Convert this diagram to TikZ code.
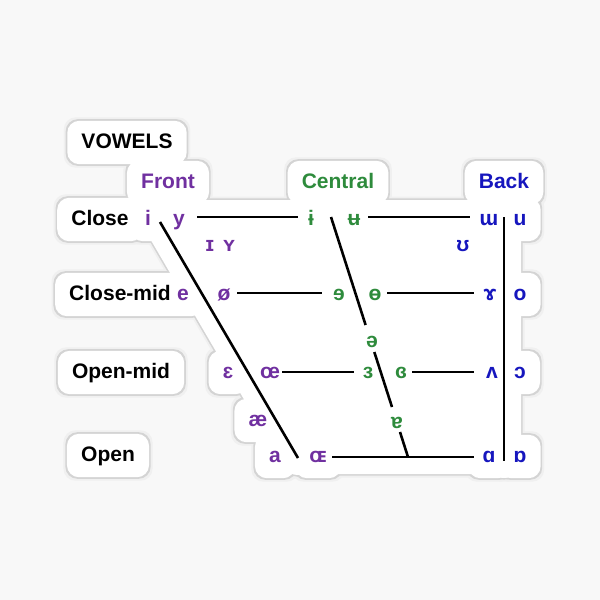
\documentclass[tikz,border=0pt]{standalone}
\usepackage{fontspec}
\setmainfont{Liberation Sans}
\usetikzlibrary{backgrounds}
\definecolor{bg}{RGB}{248,248,248}
\definecolor{pur}{RGB}{112,48,160}
\definecolor{grn}{RGB}{46,139,60}
\definecolor{blu}{RGB}{22,22,190}
\tikzset{
 lbl/.style={font=\fontsize{21}{24}\selectfont\bfseries, inner sep=0pt, text height=15pt, text depth=4pt, anchor=base},
 fr/.style={lbl, text=pur}, ce/.style={lbl, text=grn}, bk/.style={lbl, text=blu}, hd/.style={lbl, text=black},
 chartline/.style={line width=2.6pt, black},
}
\newcommand\stickerlayer[2]{%
  \foreach \n in {vw,fh,ch,bh,lc,lcm,lom,lo,i,y,ib,ub,uu,u,sI,sY,hu,e,oo,re,bo,rg,o,sw,eps,oe,rep,cre,wv,oc,ae,tu,a,OE,al,ao}{%
    \fill[#2, rounded corners=12pt] ([shift={(-14pt-#1,-12pt-#1)}]\n.south west) rectangle ([shift={(14pt+#1,12pt+#1)}]\n.north east);
  }
  \draw[#2, line width=34pt+2*#1, line cap=round] (f1)--(f2) (c1)--(c2) (b1)--(b2) (r1a)--(r1d) (r2a)--(r2d) (r3a)--(r3d) (r4a)--(r4b);
  \fill[#2] (f1)--(b1)--(b2)--(f2)--cycle;
}
\begin{document}
\begin{tikzpicture}[x=1pt,y=-1pt]
\useasboundingbox (0,0) rectangle (600,600);
% headings
\node[hd] (vw) at (127,148) {VOWELS};
\node[fr] (fh) at (168,188) {Front};
\node[ce] (ch) at (338,188) {Central};
\node[bk] (bh) at (504,188) {Back};
\node[hd] (lc) at (100,225) {Close};
\node[hd] (lcm) at (120,300) {Close-mid};
\node[hd] (lom) at (121,378) {Open-mid};
\node[hd] (lo) at (108,461) {Open};
% row 1
\node[fr] (i) at (148,225) {i};
\node[fr] (y) at (179,225) {y};
\node[ce] (ib) at (311,225) {ɨ};
\node[ce] (ub) at (354,225) {ʉ};
\node[bk] (uu) at (489,225) {ɯ};
\node[bk] (u) at (520,225) {u};
\node[fr] (sI) at (210,251) {ɪ};
\node[fr] (sY) at (229,251) {ʏ};
\node[bk] (hu) at (463,251) {ʊ};
% row 2
\node[fr] (e) at (183,300) {e};
\node[fr] (oo) at (224,300) {ø};
\node[ce] (re) at (339,300) {ɘ};
\node[ce] (bo) at (375,300) {ɵ};
\node[bk] (rg) at (490,300) {ɤ};
\node[bk] (o) at (520,300) {o};
\node[ce] (sw) at (372,347) {ə};
% row 3
\node[fr] (eps) at (228,378) {ɛ};
\node[fr] (oe) at (270,378) {œ};
\node[ce] (rep) at (368,378) {ɜ};
\node[ce] (cre) at (401,378) {ɞ};
\node[bk] (wv) at (492,378) {ʌ};
\node[bk] (oc) at (520,378) {ɔ};
\node[fr] (ae) at (258,426) {æ};
\node[ce] (tu) at (397,428) {ɐ};
% row 4
\node[fr] (a) at (275,462) {a};
\node[fr] (OE) at (318,462) {ɶ};
\node[bk] (al) at (489,462) {ɑ};
\node[bk] (ao) at (520,462) {ɒ};
% chart coordinates
\coordinate (f1) at (160,222);
\coordinate (f2) at (298,458);
\coordinate (c1) at (331,217);
\coordinate (c2) at (408,457);
\coordinate (c1b) at (365.6,325);
\coordinate (c2a) at (374.3,352);
\coordinate (c2b) at (392,407);
\coordinate (c3a) at (400,432);
\coordinate (b1) at (504,217);
\coordinate (b2) at (504,461);
\coordinate (r1a) at (197,217);
\coordinate (r1b) at (298,217);
\coordinate (r1c) at (368,217);
\coordinate (r1d) at (470,217);
\coordinate (r2a) at (237,293);
\coordinate (r2b) at (322,293);
\coordinate (r2c) at (387,293);
\coordinate (r2d) at (474,293);
\coordinate (r3a) at (282,372);
\coordinate (r3b) at (354,372);
\coordinate (r3c) at (412,372);
\coordinate (r3d) at (474,372);
\coordinate (r4a) at (332,457);
\coordinate (r4b) at (474,457);
\begin{pgfonlayer}{background}
  \fill[bg] (0,0) rectangle (600,600);
  \begin{scope}[yshift=-2pt]\stickerlayer{3.5pt}{black!6}\end{scope}
  \begin{scope}[yshift=-1pt]\stickerlayer{1.6pt}{black!17}\end{scope}
  \stickerlayer{0pt}{white}
\end{pgfonlayer}
% chart lines
\draw[chartline] (f1) -- (f2);
\draw[chartline] (c1) -- (c1b) (c2a) -- (c2b) (c3a) -- (c2);
\draw[chartline] (b1) -- (b2);
\draw[chartline] (r1a) -- (r1b) (r1c) -- (r1d);
\draw[chartline] (r2a) -- (r2b) (r2c) -- (r2d);
\draw[chartline] (r3a) -- (r3b) (r3c) -- (r3d);
\draw[chartline] (r4a) -- (r4b);
\end{tikzpicture}
\end{document}
